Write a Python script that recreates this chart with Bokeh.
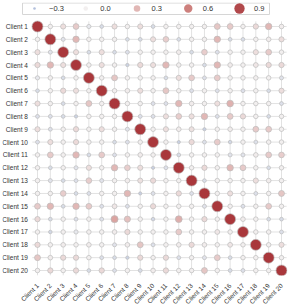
import math
from bokeh.plotting import figure
from bokeh.models import Range1d, FixedTicker, LinearColorMapper, LinearInterpolator, ColumnDataSource
from bokeh.transform import transform
from bokeh.layouts import column
from bokeh.embed import file_html
from bokeh.resources import INLINE
from bokeh.core.properties import value

clients = ["Client 1", "Client 2", "Client 3", "Client 4", "Client 5",
           "Client 6", "Client 7", "Client 8", "Client 9", "Client 10",
           "Client 11", "Client 12", "Client 13", "Client 14", "Client 15",
           "Client 16", "Client 17", "Client 18", "Client 19", "Client 20"]

c01 = [1.0, 0.0, 0.1, 0.2, -0.05, -0.12, 0.1, 0.0, 0.1, -0.12, 0.0, 0.0, 0.0, 0.0, 0.22, 0.2, 0.0, 0.12, 0.3, 0.02]
c02 = [0.0, 1.0, -0.08, 0.3, 0.0, 0.0, 0.0, -0.12, -0.12, 0.1, 0.18, -0.12, 0.0, 0.0, 0.3, -0.12, -0.12, 0.0, 0.02, 0.1]
c03 = [0.1, -0.08, 1.0, 0.1, -0.12, 0.1, -0.12, -0.1, 0.0, 0.0, 0.0, 0.02, -0.12, 0.18, -0.1, 0.0, 0.0, 0.1, 0.2, 0.0]
c04 = [0.12, 0.3, 0.1, 1.0, 0.0, 0.1, 0.0, -0.18, 0.12, 0.1, 0.3, 0.0, 0.0, -0.12, 0.3, 0.02, 0.0, 0.05, 0.12, 0.12]
c05 = [-0.05, 0.0, -0.12, 0.0, 1.0, 0.0, 0.22, 0.0, 0.0, 0.0, -0.12, 0.1, 0.2, -0.1, 0.2, 0.0, 0.0, 0.0, 0.0, -0.08]
c06 = [-0.12, 0.0, 0.12, 0.1, 0.0, 1.0, 0.0, 0.02, 0.1, 0.0, 0.22, 0.0, -0.1, 0.0, -0.1, 0.0, -0.1, 0.0, -0.12, 0.1]
c07 = [0.1, 0.0, -0.12, 0.0, 0.22, 0.0, 1.0, 0.0, 0.0, -0.1, -0.1, 0.3, 0.02, 0.0, 0.1, 0.33, 0.0, 0.0, 0.0, -0.1]
c08 = [-0.1, -0.1, -0.12, -0.18, 0.0, 0.0, 0.0, 1.0, -0.1, -0.1, 0.1, 0.18, 0.1, 0.3, -0.1, 0.2, 0.12, 0.0, -0.12, 0.0]
c09 = [0.1, -0.1, 0.0, 0.12, 0.0, 0.1, 0.0, -0.08, 1.0, 0.0, 0.1, 0.02, 0.08, -0.2, 0.0, 0.02, 0.0, 0.2, 0.2, 0.0]
c10 = [-0.1, 0.1, 0.0, 0.12, 0.0, 0.0, -0.12, -0.1, 0.0, 1.0, 0.0, -0.2, 0.12, -0.1, 0.2, -0.15, 0.0, -0.1, 0.0, 0.0]
c11 = [0.0, 0.2, 0.0, 0.3, -0.12, 0.2, -0.1, 0.0, 0.02, 0.0, 1.0, -0.12, 0.0, 0.0, 0.0, -0.08, -0.08, 0.02, 0.2, 0.18]
c12 = [0.0, -0.12, 0.0, -0.08, 0.1, 0.0, 0.3, 0.18, 0.1, -0.2, -0.1, 1.0, 0.0, 0.12, 0.0, 0.3, 0.2, 0.0, -0.12, 0.0]
c13 = [0.0, -0.08, -0.12, -0.1, 0.18, -0.08, 0.0, 0.02, 0.08, 0.12, 0.0, 0.0, 1.0, -0.12, 0.0, 0.0, 0.0, 0.1, 0.02, 0.0]
c14 = [0.0, 0.0, 0.18, -0.12, -0.1, 0.0, 0.0, 0.3, -0.2, -0.1, 0.0, 0.12, -0.1, 1.0, 0.0, 0.1, 0.0, -0.1, 0.0, 0.22]
c15 = [0.2, 0.3, -0.12, 0.3, 0.2, -0.1, 0.05, -0.1, 0.0, 0.12, 0.0, 0.0, 0.0, -0.08, 1.0, 0.0, -0.1, 0.0, 0.2, 0.0]
c16 = [0.12, -0.12, 0.0, -0.1, 0.0, -0.1, 0.4, 0.25, 0.0, -0.15, 0.0, 0.35, 0.0, 0.12, 0.0, 1.0, 0.02, 0.0, -0.12, -0.12]
c17 = [0.0, -0.15, 0.0, -0.05, 0.0, 0.0, 0.02, 0.12, 0.0, 0.0, 0.0, 0.2, 0.0, 0.0, 0.05, 0.0, 1.0, 0.0, 0.0, -0.1]
c18 = [0.12, 0.0, 0.02, 0.0, 0.02, 0.0, -0.08, 0.02, 0.22, -0.1, 0.0, 0.02, 0.12, 0.02, 0.0, 0.05, 0.0, 1.0, 0.0, 0.1]
c19 = [0.22, 0.02, 0.12, 0.12, 0.0, -0.1, -0.12, -0.18, 0.12, 0.0, 0.12, -0.1, 0.0, -0.08, 0.2, -0.12, 0.0, 0.0, 1.0, 0.0]
c20 = [0.0, 0.12, 0.0, 0.12, -0.12, 0.12, -0.1, 0.0, -0.12, 0.02, 0.12, 0.0, 0.0, 0.22, 0.0, -0.12, -0.1, 0.0, 0.0, 1.0]
rows = [c01, c02, c03, c04, c05, c06, c07, c08, c09, c10,
        c11, c12, c13, c14, c15, c16, c17, c18, c19, c20]

legend_values = [-0.3, 0.0, 0.3, 0.6, 0.9]
legend_labels = ["\u22120.3", "0.0", "0.3", "0.6", "0.9"]

# vlag-like diverging palette
stops = [(0.0, (35, 105, 189)), (0.25, (136, 160, 207)), (0.5, (242, 240, 240)),
         (0.75, (214, 146, 142)), (1.0, (169, 55, 59))]
def _interp(t):
    for (t0, a), (t1, b) in zip(stops[:-1], stops[1:]):
        if t0 <= t <= t1:
            f = (t - t0) / (t1 - t0)
            return "#%02x%02x%02x" % tuple(int(round(a[k] + (b[k] - a[k]) * f)) for k in range(3))
    return "#%02x%02x%02x" % stops[-1][1]
palette = [_interp(i / 255) for i in range(256)]

cmap = LinearColorMapper(palette=palette, low=-1, high=1)
size_map = LinearInterpolator(x=[-0.3, 1.0], y=[2.6, 11.0])

n = len(clients)
xs, ys, vs = [], [], []
for r, row in enumerate(rows):
    for c, v in enumerate(row):
        xs.append(c + 1)
        ys.append(r + 1)
        vs.append(v)
src = ColumnDataSource(dict(x=xs, y=ys, v=vs))

FONT = "Liberation Sans"
TXT = "#333333"

# layout: one data unit = S pixels; frame spans canvas from its left/top edge
S = 244 / 19
PAD = 0.4
p = figure(frame_width=285, frame_height=273,
           x_range=Range1d(1 - 35 / S, 1 + 250 / S),
           y_range=Range1d(1 + 249 / S, 1 - 24 / S),
           output_backend="svg", toolbar_location=None,
           min_border_left=0, min_border_top=0, min_border_right=4, min_border_bottom=29)
p.xgrid.visible = False
p.ygrid.visible = False
p.yaxis.visible = False
p.outline_line_color = None

# grid lines through every category
ticks = list(range(1, n + 1))
p.segment(x0=ticks, x1=ticks, y0=[1 - PAD] * n, y1=[n + PAD] * n, line_color="#e2e2e2", line_width=1)
p.segment(x0=[1 - PAD] * n, x1=[n + PAD] * n, y0=ticks, y1=ticks, line_color="#e2e2e2", line_width=1)

p.scatter("x", "y", source=src, size=transform("v", size_map),
          fill_color=transform("v", cmap), line_color="#bbbbbb", line_width=0.7)

# y tick labels
p.text(x=[1 - PAD - 4.5 / S] * n, y=ticks, text=clients, text_align="right", text_baseline="middle",
       text_font=value(FONT), text_font_size="6.5px", text_color=TXT)

# x axis
ax = p.xaxis[0]
ax.ticker = FixedTicker(ticks=ticks)
ax.major_label_overrides = {i + 1: name for i, name in enumerate(clients)}
ax.axis_line_color = None
ax.major_tick_line_color = None
ax.minor_tick_line_color = None
ax.major_label_text_font = FONT
ax.major_label_text_font_size = "6.5px"
ax.major_label_text_color = TXT
ax.major_label_orientation = math.pi / 4
ax.major_label_standoff = 3

# legend box
p.quad(left=[1 - 15 / S], right=[1 + 232 / S], top=[1 - 23.5 / S], bottom=[1 - 12 / S],
       fill_color="white", line_color="#d6d6d6", line_width=1)
idx = list(range(len(legend_values)))
lx = [1 - 3 / S + i * 51.25 / S for i in idx]
ly = 1 - 18 / S
lsrc = ColumnDataSource(dict(x=lx, tx=[x + 14.5 / S for x in lx], y=[ly] * len(idx),
                             v=legend_values, t=legend_labels))
p.scatter("x", "y", source=lsrc, size=transform("v", size_map),
          fill_color=transform("v", cmap), line_color=None)
p.text("tx", "y", text="t", source=lsrc,
       text_baseline="middle", text_align="left", text_font=value(FONT),
       text_font_size="7.5px", text_color=TXT)

layout = column(p, margin=(2, -16, -14, 2), spacing=0)
open("out.html", "w").write(file_html(layout, INLINE))
